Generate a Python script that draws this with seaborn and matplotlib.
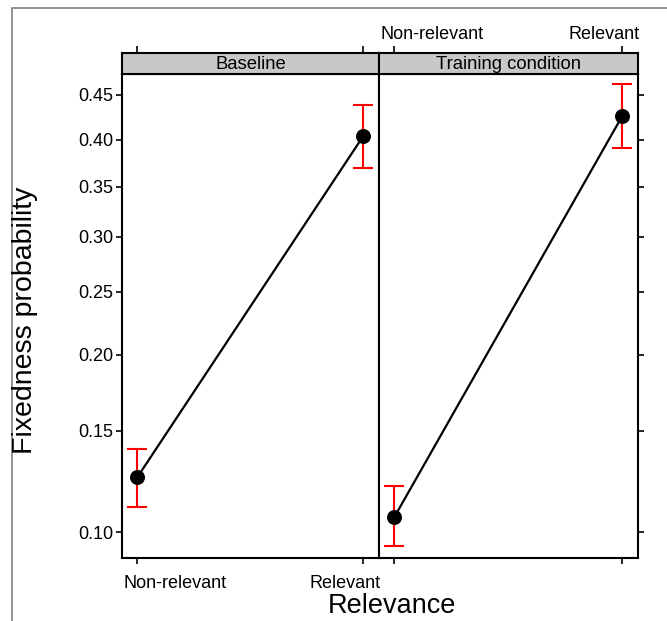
import numpy as np
import pandas as pd
import matplotlib
matplotlib.use("Agg")
import matplotlib.pyplot as plt
import seaborn as sns
from matplotlib.patches import Rectangle
from matplotlib.ticker import FixedLocator, NullLocator
from matplotlib.transforms import ScaledTranslation

# data (probability scale, logit axis)
relevance = ["Non-relevant", "Relevant"]
conditions = ["Baseline", "Training condition"]
baseline_fit = [0.125, 0.404]
baseline_lo = [0.111, 0.370]
baseline_hi = [0.140, 0.439]
training_fit = [0.1065, 0.426]
training_lo = [0.0945, 0.3915]
training_hi = [0.1207, 0.462]
yticks = [0.10, 0.15, 0.20, 0.25, 0.30, 0.35, 0.40, 0.45]

sns.set_style("white")
plt.rcParams["font.family"] = ["Liberation Sans", "DejaVu Sans"]
plt.rcParams["text.color"] = "black"

df = pd.DataFrame({
    "condition": np.repeat(conditions, len(relevance)),
    "relevance": relevance * len(conditions),
    "pos": list(range(len(relevance))) * len(conditions),
    "fit": baseline_fit + training_fit,
    "lo": baseline_lo + training_lo,
    "hi": baseline_hi + training_hi,
})

W, H = 667, 621
fig = plt.figure(figsize=(W / 100, H / 100), dpi=100)

# outer gray frame (runs off the right/bottom edge)
fig.add_artist(Rectangle((12 / W, -0.1), 1.2, 1 - 8 / H + 0.1,
                         transform=fig.transFigure, fill=False,
                         edgecolor="#808080", lw=1.2))

panel_bottom = (H - 558) / H
panel_h = (558 - 74) / H
strip_h = 21 / H
lefts = [122 / W, 379 / W]
widths = [257 / W, 259 / W]
# the labels in the original sit off-centre from their ticks
label_shift = [0.38, -0.18]


def shift_labels(labels):
    for lab, dx in zip(labels, label_shift):
        lab.set_transform(lab.get_transform() +
                          ScaledTranslation(dx, 0, fig.dpi_scale_trans))


for i, cond in enumerate(conditions):
    ax = fig.add_axes([lefts[i], panel_bottom, widths[i], panel_h])
    sub = df[df["condition"] == cond]
    sns.lineplot(data=sub, x="pos", y="fit", ax=ax, color="black", lw=1.6,
                 marker="o", markersize=10, markeredgecolor="black", zorder=3)
    ax.errorbar(sub["pos"], sub["fit"],
                yerr=[sub["fit"] - sub["lo"], sub["hi"] - sub["fit"]],
                fmt="none", ecolor="red", elinewidth=1.5, capsize=7,
                capthick=1.5, zorder=2)
    ax.set_yscale("logit")
    ax.set_ylim(0.0899, 0.4738)
    ax.set_xlim(-0.068, 1.07)
    ax.yaxis.set_major_locator(FixedLocator(yticks))
    ax.yaxis.set_minor_locator(NullLocator())
    ax.set_yticklabels([f"{t:.2f}" for t in yticks])
    ax.set_xticks(range(len(relevance)))
    ax.set_xticklabels(relevance)
    ax.set_xlabel("")
    ax.set_ylabel("")
    for s in ax.spines.values():
        s.set_linewidth(1.5)
        s.set_color("black")
    ax.tick_params(axis="both", direction="out", length=4, width=1.2,
                   labelsize=13, colors="black")
    ax.tick_params(axis="x", pad=8)
    ax.tick_params(axis="y", pad=2)
    if i == 0:
        ax.tick_params(axis="y", left=True, right=False, labelleft=True)
        ax.tick_params(axis="x", bottom=True, labelbottom=True)
        shift_labels(ax.get_xticklabels())
    else:
        ax.tick_params(axis="y", left=False, right=True, labelleft=False,
                       labelright=False)
        ax.tick_params(axis="x", bottom=True, labelbottom=False)

    # strip with the panel name, carrying the top ticks
    st = fig.add_axes([lefts[i], panel_bottom + panel_h, widths[i], strip_h],
                      sharex=ax)
    st.set_facecolor("#c8c8c8")
    st.set_yticks([])
    for s in st.spines.values():
        s.set_linewidth(1.5)
        s.set_color("black")
    st.text(0.5, 0.45, cond, transform=st.transAxes, ha="center",
            va="center", fontsize=13.3)
    st.tick_params(axis="x", top=True, bottom=False, labelbottom=False,
                   labeltop=(i == 1), direction="out", length=5, width=1.2,
                   labelsize=13, pad=2, colors="black")
    if i == 1:
        shift_labels([t.label2 for t in st.xaxis.get_major_ticks()])

fig.text(392 / W, (H - 606) / H, "Relevance", ha="center", va="center",
         fontsize=19.5)
fig.text(25 / W, (H - 320) / H, "Fixedness probability", ha="center",
         va="center", rotation=90, fontsize=20.5)

fig.savefig("out.png", dpi=100)
